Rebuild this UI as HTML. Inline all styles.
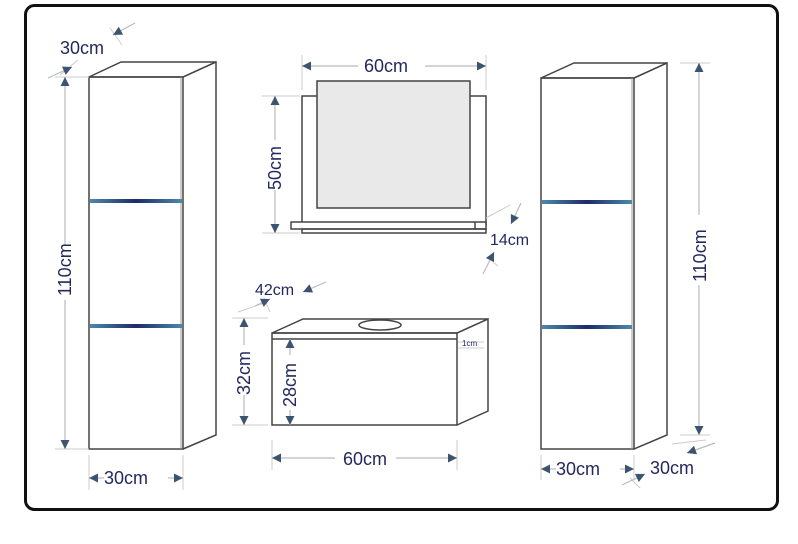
<!DOCTYPE html>
<html><head><meta charset="utf-8"><style>
html,body{margin:0;padding:0;background:#fff;width:798px;height:544px;overflow:hidden}
text{font-family:"Liberation Sans",sans-serif;fill:#23285f}
</style></head><body>
<svg width="798" height="544" viewBox="0 0 798 544" xmlns="http://www.w3.org/2000/svg">
<defs>
<marker id="a" viewBox="0 0 10 10" refX="10" refY="5" markerWidth="12" markerHeight="9" orient="auto-start-reverse" markerUnits="userSpaceOnUse"><path d="M0,0 L10,5 L0,10z" fill="#3d5470"/></marker>
<linearGradient id="band" x1="0" y1="0" x2="1" y2="0"><stop offset="0" stop-color="#4b8aa8"/><stop offset="0.5" stop-color="#1d2a6a"/><stop offset="1" stop-color="#4b8aa8"/></linearGradient>
</defs>
<rect x="25.5" y="5.5" width="752" height="504" rx="9" fill="none" stroke="#111" stroke-width="3"/>
<g fill="none" stroke="#444" stroke-width="1.5">
<path d="M89,77 L121,62 L216,62 L183,77 Z"/>
<path d="M183,77 L216,62 L216,435 L183,449"/>
<rect x="89" y="77" width="94" height="372"/>
<line x1="181" y1="77" x2="181" y2="449" stroke="#999" stroke-width="1"/>
<path d="M541,78 L574,63 L667,63 L634,78 Z"/>
<path d="M634,78 L667,63 L667,435 L634,449"/>
<rect x="541" y="78" width="93" height="371"/>
<line x1="632" y1="78" x2="632" y2="449" stroke="#999" stroke-width="1"/>
<rect x="302" y="96" width="184" height="129"/>
<rect x="317" y="81" width="153" height="127" fill="#e9e9e9"/>
<rect x="291" y="222" width="195" height="7" fill="#fff"/>
<rect x="302" y="229" width="184" height="4"/>
<line x1="475" y1="222" x2="475" y2="229"/>
<path d="M272,333 L303,319 L488,319 L457,333 Z"/>
<path d="M457,333 L488,319 L488,411 L457,425"/>
<rect x="272" y="333" width="185" height="92"/>
<line x1="272" y1="339" x2="457" y2="339"/>
<ellipse cx="380" cy="325" rx="21" ry="5"/>
</g>
<g>
<rect x="90" y="199" width="92" height="4" fill="url(#band)"/>
<rect x="90" y="324" width="92" height="4" fill="url(#band)"/>
<rect x="542" y="200" width="90" height="4" fill="url(#band)"/>
<rect x="542" y="325" width="90" height="4" fill="url(#band)"/>
</g>
<g stroke="#ccc" stroke-width="1" fill="none">
<line x1="55" y1="77" x2="89" y2="77"/><line x1="55" y1="449" x2="89" y2="449"/>
<line x1="89" y1="455" x2="89" y2="490"/><line x1="183" y1="455" x2="183" y2="490"/>
<line x1="60" y1="75" x2="78" y2="60"/><line x1="110" y1="28" x2="122" y2="45"/>
<line x1="680" y1="63" x2="710" y2="63"/><line x1="680" y1="435" x2="710" y2="435"/>
<line x1="541" y1="455" x2="541" y2="480"/><line x1="634" y1="455" x2="634" y2="480"/>
<line x1="302" y1="55" x2="302" y2="90"/><line x1="486" y1="55" x2="486" y2="90"/>
<line x1="262" y1="96" x2="300" y2="96"/><line x1="262" y1="233" x2="300" y2="233"/>
<line x1="272" y1="440" x2="272" y2="470"/><line x1="457" y1="440" x2="457" y2="470"/>
<line x1="232" y1="318" x2="268" y2="318"/><line x1="232" y1="425" x2="268" y2="425"/>
<line x1="238" y1="312" x2="264" y2="303"/><line x1="264" y1="298" x2="270" y2="312"/>
<line x1="458" y1="342" x2="484" y2="342"/><line x1="458" y1="348" x2="484" y2="348"/>
<line x1="486" y1="218" x2="510" y2="205"/><line x1="488" y1="258" x2="498" y2="266"/>
<line x1="672" y1="444" x2="706" y2="440"/><line x1="630" y1="478" x2="640" y2="488"/>
</g>
<g stroke="#bbb" stroke-width="1.2" fill="none">
<line x1="65" y1="77" x2="65" y2="245" marker-start="url(#a)"/>
<line x1="65" y1="300" x2="65" y2="449" marker-end="url(#a)"/>
<line x1="89" y1="478" x2="104" y2="478" marker-start="url(#a)"/>
<line x1="168" y1="478" x2="183" y2="478" marker-end="url(#a)"/>
<line x1="699" y1="63" x2="699" y2="215" marker-start="url(#a)"/>
<line x1="699" y1="285" x2="699" y2="435" marker-end="url(#a)"/>
<line x1="541" y1="469" x2="556" y2="469" marker-start="url(#a)"/>
<line x1="620" y1="469" x2="634" y2="469" marker-end="url(#a)"/>
<line x1="302" y1="66" x2="358" y2="66" marker-start="url(#a)"/>
<line x1="425" y1="66" x2="486" y2="66" marker-end="url(#a)"/>
<line x1="275" y1="96" x2="275" y2="140" marker-start="url(#a)"/>
<line x1="275" y1="190" x2="275" y2="233" marker-end="url(#a)"/>
<line x1="272" y1="458" x2="335" y2="458" marker-start="url(#a)"/>
<line x1="396" y1="458" x2="457" y2="458" marker-end="url(#a)"/>
<line x1="244" y1="318" x2="244" y2="345" marker-start="url(#a)"/>
<line x1="244" y1="395" x2="244" y2="425" marker-end="url(#a)"/>
<line x1="290" y1="339" x2="290" y2="355" marker-start="url(#a)"/>
<line x1="290" y1="410" x2="290" y2="425" marker-end="url(#a)"/>
<line x1="48" y1="78" x2="72" y2="67" marker-end="url(#a)"/>
<line x1="135" y1="23" x2="113" y2="35" marker-end="url(#a)"/>
<line x1="255" y1="306" x2="270" y2="299" marker-end="url(#a)"/>
<line x1="326" y1="282" x2="303" y2="292" marker-end="url(#a)"/>
<line x1="521" y1="203" x2="511" y2="224" marker-end="url(#a)"/>
<line x1="483" y1="274" x2="494" y2="252" marker-end="url(#a)"/>
<line x1="715" y1="443" x2="687" y2="453" marker-end="url(#a)"/>
<line x1="622" y1="485" x2="645" y2="474" marker-end="url(#a)"/>
</g>
<g font-size="18">
<text x="60" y="54">30cm</text>
<text x="104" y="484">30cm</text>
<text x="556" y="475">30cm</text>
<text x="650" y="474">30cm</text>
<text x="364" y="72">60cm</text>
<text x="343" y="465">60cm</text>
<text x="490" y="245" font-size="16">14cm</text>
<text x="255" y="295" font-size="16">42cm</text>
<text transform="translate(71,296) rotate(-90)">110cm</text>
<text transform="translate(706,282) rotate(-90)">110cm</text>
<text transform="translate(281,190) rotate(-90)">50cm</text>
<text transform="translate(250,395) rotate(-90)">32cm</text>
<text transform="translate(296,407) rotate(-90)">28cm</text>
<text x="462" y="346" font-size="8">1cm</text>
</g>
</svg>
</body></html>
